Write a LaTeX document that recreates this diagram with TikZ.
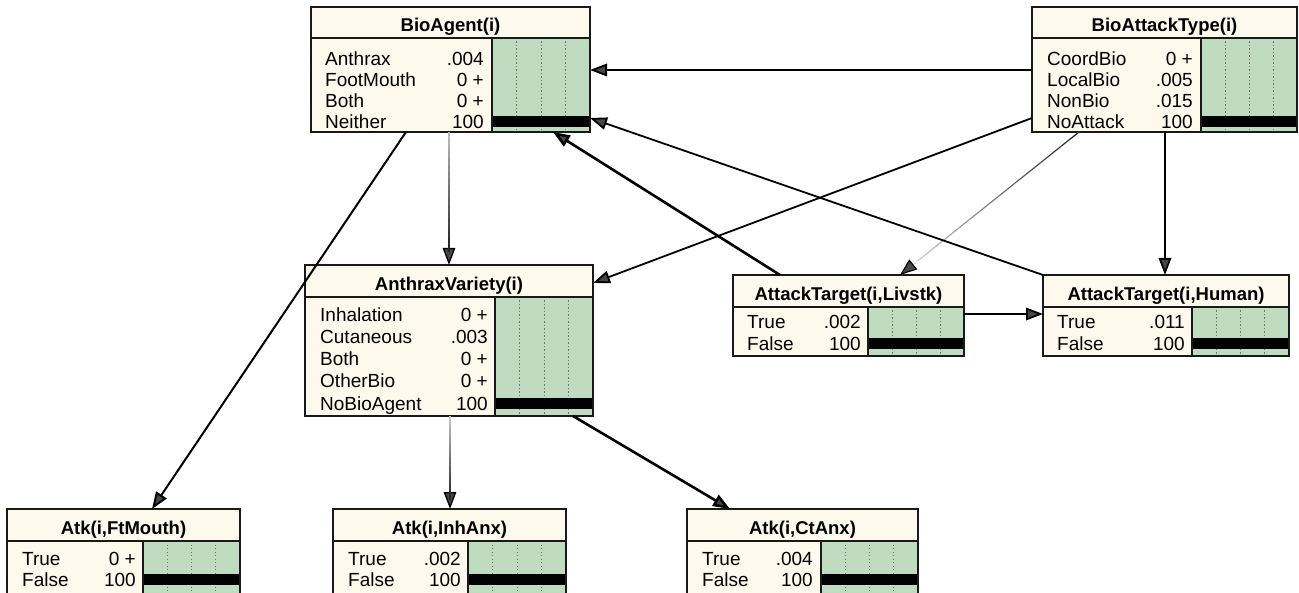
\documentclass[tikz,border=0pt]{standalone}
\usepackage{fontspec}
\setmainfont{Liberation Sans}
\usetikzlibrary{arrows.meta,calc,fit}

\definecolor{nodefill}{RGB}{253,249,237}
\definecolor{barfill}{RGB}{192,220,192}
\definecolor{frameclr}{RGB}{25,25,25}

\tikzset{
  x=1pt, y=-1pt,
  bnbox/.style={fill=nodefill, inner sep=0pt, outer sep=0pt},
  framel/.style={draw=frameclr, line width=1.8pt},
  gridline/.style={draw=black!55, line width=1pt, dash pattern=on 1.3pt off 2.2pt},
  titletext/.style={font=\fontsize{18.5}{20}\selectfont\bfseries, inner sep=0pt},
  rowtext/.style={font=\fontsize{19}{21}\selectfont, inner sep=0pt},
  tipstyle/.tip={Triangle[length=17pt, width=12.5pt, color=black, fill=black!72]},
  link/.style={draw=black, line width=1.8pt, -tipstyle},
  strong/.style={link, line width=2.6pt},
}

% Belief-bar node: name, left, top, right, bottom, divider y, bar left, title, full-bar row y
\newcommand{\bnnode}[9]{%
  \node[bnbox, fit={(#2,#3)(#4,#5)}] (#1) {};
  \fill[barfill] (#7,#6) rectangle (#4,#5);
  \foreach \f in {0.25,0.5,0.75}{%
    \draw[gridline] ({#7+\f*(#4-#7)},#6) -- ({#7+\f*(#4-#7)},#5);}
  \fill[black] (#7,{#9-5.5}) rectangle (#4,{#9+5.5});
  \draw[framel] (#2,#6) -- (#4,#6);
  \draw[framel] (#7,#6) -- (#7,#5);
  \draw[framel] (#1.north west) rectangle (#1.south east);
  \node[titletext, anchor=base] at ({(#2+#4)/2},{#6-6.5}) {#8};
}

% One state row: label x, value right x, row centre y, label, value
\newcommand{\bnrow}[5]{%
  \node[rowtext, anchor=base west] at (#1,{#3+6.8}) {#4};
  \node[rowtext, anchor=base east] at (#2,{#3+6.8}) {#5};
}

% Link whose shade runs from one grey level to another
\newcommand{\fadelink}[5]{%
  \draw[link, line width=#5, draw=black!#4] (#1) -- (#2);
  \foreach \k in {0,...,17}{%
    \pgfmathsetmacro\pa{\k/20}%
    \pgfmathsetmacro\pb{(\k+1)/20}%
    \pgfmathsetmacro\cc{#3+(#4-#3)*(\k+0.5)/20}%
    \draw[line width=#5, draw=black!\cc] ($(#1)!\pa!(#2)$) -- ($(#1)!\pb!(#2)$);}
}

\begin{document}
\begin{tikzpicture}
\clip (0,0) rectangle (1299,593);
\fill[white] (0,0) rectangle (1299,593);

% ---- BioAgent(i)
\bnnode{ba}{311}{7}{590}{132}{38}{492}{BioAgent(i)}{121.5}
\bnrow{325}{484}{59}{Anthrax}{.004}
\bnrow{325}{484}{80}{FootMouth}{0 +}
\bnrow{325}{484}{101}{Both}{0 +}
\bnrow{325}{484}{121.5}{Neither}{100}

% ---- BioAttackType(i)
\bnnode{bat}{1032}{7}{1297}{132}{38}{1201}{BioAttackType(i)}{121.5}
\bnrow{1047}{1193}{59}{CoordBio}{0 +}
\bnrow{1047}{1193}{80}{LocalBio}{.005}
\bnrow{1047}{1193}{101}{NonBio}{.015}
\bnrow{1047}{1193}{121.5}{NoAttack}{100}

% ---- AnthraxVariety(i)
\bnnode{av}{305}{265}{593}{416}{297}{495}{AnthraxVariety(i)}{404}
\bnrow{320}{488}{315}{Inhalation}{0 +}
\bnrow{320}{488}{337}{Cutaneous}{.003}
\bnrow{320}{488}{359}{Both}{0 +}
\bnrow{320}{488}{381}{OtherBio}{0 +}
\bnrow{320}{488}{403.5}{NoBioAgent}{100}

% ---- AttackTarget nodes
\bnnode{liv}{733}{275}{964}{356}{307}{868}{AttackTarget(i,Livstk)}{344}
\bnrow{747}{861}{322}{True}{.002}
\bnrow{747}{861}{344}{False}{100}

\bnnode{hum}{1043}{275}{1289}{356}{307}{1192}{AttackTarget(i,Human)}{344}
\bnrow{1057}{1185}{322}{True}{.011}
\bnrow{1057}{1185}{344}{False}{100}

% ---- Atk nodes along the bottom
\bnnode{ftm}{7}{509}{240}{597}{541}{143}{Atk(i,FtMouth)}{579}
\bnrow{22}{136}{559}{True}{0 +}
\bnrow{22}{136}{580}{False}{100}

\bnnode{inh}{333}{509}{566}{597}{541}{468}{Atk(i,InhAnx)}{579}
\bnrow{348}{461}{559}{True}{.002}
\bnrow{348}{461}{580}{False}{100}

\bnnode{ct}{687}{509}{918}{597}{541}{821}{Atk(i,CtAnx)}{579}
\bnrow{702}{813}{559}{True}{.004}
\bnrow{702}{813}{580}{False}{100}

% ---- link end points on the node borders
\coordinate (batW1) at ($(bat.north west)+(0,63)$);
\coordinate (baE1)  at ($(ba.north east)+(0,63)$);
\coordinate (batS1) at ($(bat.south west)+(133,0)$);
\coordinate (humN1) at ($(hum.north west)+(122,0)$);
\coordinate (batS2) at ($(bat.south west)+(47,0)$);
\coordinate (livN1) at ($(liv.north west)+(167,0)$);
\coordinate (batW2) at ($(bat.north west)+(0,111)$);
\coordinate (avE1)  at ($(av.north east)+(0,18)$);
\coordinate (baE2)  at ($(ba.north east)+(0,111)$);
\coordinate (livN2) at ($(liv.north west)+(47,0)$);
\coordinate (baS1)  at ($(ba.south east)+(-37,0)$);
\coordinate (livE1) at ($(liv.north east)+(0,39)$);
\coordinate (humW1) at ($(hum.north west)+(0,39)$);
\coordinate (baS2)  at ($(ba.south west)+(138,0)$);
\coordinate (avN1)  at ($(av.north west)+(144,0)$);
\coordinate (baS3)  at ($(ba.south west)+(95,0)$);
\coordinate (ftmN1) at ($(ftm.north west)+(145,0)$);
\coordinate (avS1)  at ($(av.south west)+(145,0)$);
\coordinate (inhN1) at ($(inh.north west)+(117,0)$);
\coordinate (avS2)  at ($(av.south west)+(268,0)$);
\coordinate (ctN1)  at ($(ct.north west)+(43,0)$);

% ---- links
\draw[link] (batW1) -- (baE1);
\draw[link] (batS1) -- (humN1);
\fadelink{batS2}{livN1}{90}{12}{1.1pt}
\draw[link] (batW2) -- (avE1);
\draw[link] (hum.north west) -- (baE2);
\draw[strong] (livN2) -- (baS1);
\draw[link] (livE1) -- (humW1);
\fadelink{baS2}{avN1}{25}{95}{1.3pt}
\draw[link, line width=2pt] (baS3) -- (ftmN1);
\fadelink{avS1}{inhN1}{20}{95}{1.3pt}
\draw[strong] (avS2) -- (ctN1);
\end{tikzpicture}
\end{document}
